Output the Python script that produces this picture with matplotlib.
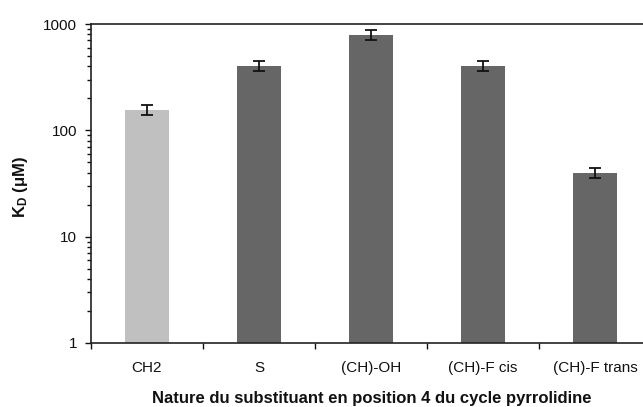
import matplotlib
matplotlib.use("Agg")
import matplotlib.pyplot as plt
from matplotlib.ticker import LogLocator, NullFormatter, FixedLocator

categories = ["CH2", "S", "(CH)-OH", "(CH)-F cis", "(CH)-F trans"]
kd_values = [155, 405, 790, 405, 40]
kd_errors = [17, 43, 85, 43, 4]
bar_colors = ["#c0c0c0", "#666666", "#666666", "#666666", "#666666"]
y_ticks = [1, 10, 100, 1000]
y_tick_labels = ["1", "10", "100", "1000"]

plt.rcParams["font.family"] = ["Liberation Sans", "DejaVu Sans"]
plt.rcParams["mathtext.fontset"] = "custom"
plt.rcParams["mathtext.bf"] = "Liberation Sans:bold"
plt.rcParams["mathtext.rm"] = "Liberation Sans"

fig = plt.figure(figsize=(6.43, 4.07), dpi=100)
ax = fig.add_axes([91/643, (407-343)/407, 560/643, (343-24)/407])

x = list(range(len(categories)))
ax.bar(x, kd_values, width=0.4, color=bar_colors, edgecolor="none", zorder=2)
ax.errorbar(x, kd_values, yerr=kd_errors, fmt="none", ecolor="#111111",
            elinewidth=1.3, capsize=4, capthick=1.3, zorder=3)

ax.set_yscale("log")
ax.set_ylim(1, 1000)
ax.set_xlim(-0.5, 4.5)
ax.set_yticks(y_ticks)
ax.set_yticklabels(y_tick_labels)
ax.yaxis.set_minor_locator(LogLocator(base=10, subs=range(2, 10)))
ax.yaxis.set_minor_formatter(NullFormatter())

ax.set_xticks(x)
ax.set_xticklabels(categories)
ax.xaxis.set_minor_locator(FixedLocator([i + 0.5 for i in range(-1, len(categories))]))
ax.tick_params(axis="x", which="major", length=0, pad=13, labelsize=11, colors="#111111")
ax.tick_params(axis="x", which="minor", length=4, width=1, direction="out", color="#111111")
ax.tick_params(axis="y", which="major", length=4, width=1, direction="out", pad=6,
               labelsize=11, colors="#111111")
ax.tick_params(axis="y", which="minor", length=3, width=1, direction="out", color="#111111")

for s in ["left", "bottom", "top"]:
    ax.spines[s].set_linewidth(1.2)
    ax.spines[s].set_color("#222222")
ax.spines["right"].set_visible(False)

fig.text(372/643, 1 - 399/407, "Nature du substituant en position 4 du cycle pyrrolidine",
         fontsize=12, fontweight="bold", ha="center", va="center", color="#111111")
fig.text(21/643, 1 - 187/407, r"$\mathbf{K_D}$ ($\mathbf{\mu}$M)", fontsize=12,
         fontweight="bold", rotation=90, ha="center", va="center", color="#111111")

fig.savefig("out.png", dpi=100)
